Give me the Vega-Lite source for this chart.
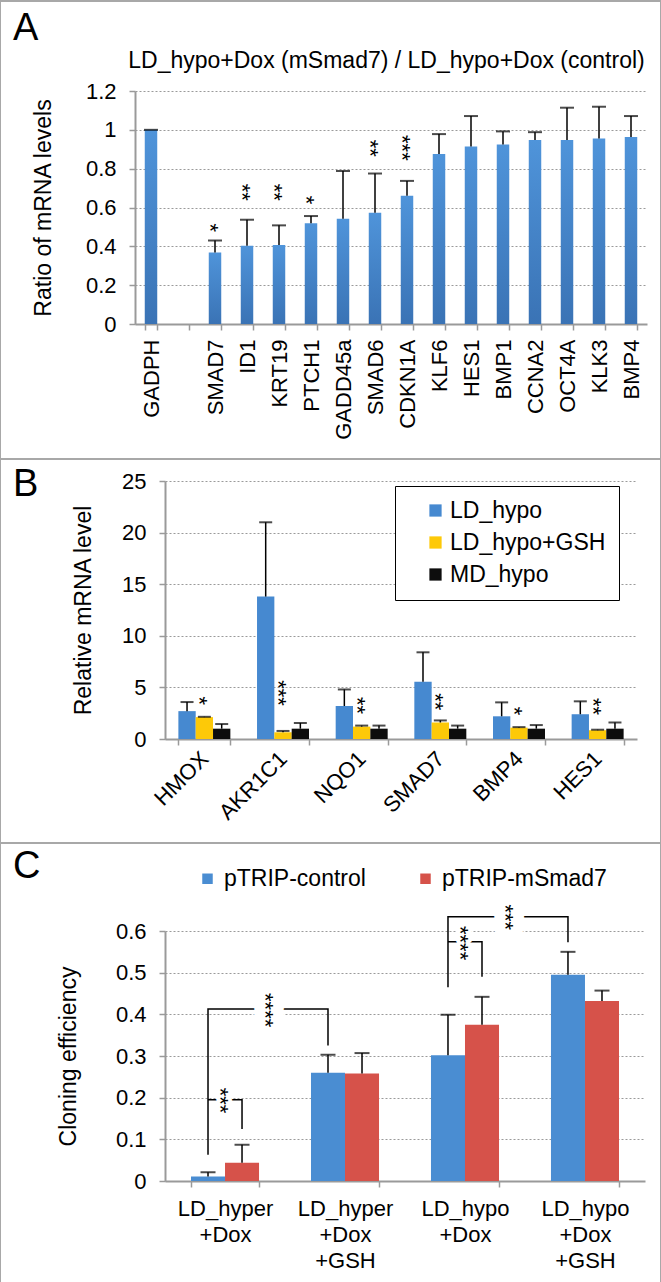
{
  "$schema": "https://vega.github.io/schema/vega-lite/v6.json",
  "padding": {"left": -12, "top": 0, "right": 0, "bottom": 0},
  "spacing": 0,
  "bounds": "flush",
  "background": "white",
  "resolve": {"scale": {"color": "independent", "xOffset": "independent"}, "legend": {"color": "independent"}},
  "config": {
    "font": "Liberation Sans",
    "view": {"stroke": "#a8a8a8", "strokeWidth": 2},
    "axis": {"labelFont": "Liberation Sans", "titleFont": "Liberation Sans", "labelColor": "#000", "titleColor": "#000", "domainColor": "#9a9a9a", "tickColor": "#9a9a9a", "domainWidth": 2, "tickWidth": 1.5, "gridColor": "#9a9a9a", "gridDash": [2, 2], "gridWidth": 1, "titleFontWeight": "normal"},
    "title": {"font": "Liberation Sans", "fontWeight": "normal", "color": "#000"},
    "legend": {"labelFont": "Liberation Sans", "labelColor": "#000", "labelLimit": 400}
  },
  "datasets": {
    "a": [
      {"gene": "GADPH", "value": 1.0, "err": 1.0},
      {"gene": "SMAD7", "value": 0.368, "err": 0.43},
      {"gene": "ID1", "value": 0.403, "err": 0.537},
      {"gene": "KRT19", "value": 0.407, "err": 0.508},
      {"gene": "PTCH1", "value": 0.519, "err": 0.556},
      {"gene": "GADD45a", "value": 0.542, "err": 0.788},
      {"gene": "SMAD6", "value": 0.573, "err": 0.775},
      {"gene": "CDKN1A", "value": 0.661, "err": 0.737},
      {"gene": "KLF6", "value": 0.876, "err": 0.978},
      {"gene": "HES1", "value": 0.914, "err": 1.071},
      {"gene": "BMP1", "value": 0.924, "err": 0.992},
      {"gene": "CCNA2", "value": 0.947, "err": 0.988},
      {"gene": "OCT4A", "value": 0.948, "err": 1.114},
      {"gene": "KLK3", "value": 0.956, "err": 1.119},
      {"gene": "BMP4", "value": 0.963, "err": 1.071}
    ],
    "aStars": [
      {"gene": "SMAD7", "y": 0.495, "label": "*"},
      {"gene": "ID1", "y": 0.678, "label": "**"},
      {"gene": "KRT19", "y": 0.678, "label": "**"},
      {"gene": "PTCH1", "y": 0.639, "label": "*"},
      {"gene": "SMAD6", "y": 0.905, "label": "**"},
      {"gene": "CDKN1A", "y": 0.907, "label": "***"}
    ],
    "b": [
      {"gene": "HMOX", "series": "LD_hypo", "value": 2.7, "err": 3.58},
      {"gene": "HMOX", "series": "LD_hypo+GSH", "value": 2.12, "err": 2.15},
      {"gene": "HMOX", "series": "MD_hypo", "value": 1.0, "err": 1.45},
      {"gene": "AKR1C1", "series": "LD_hypo", "value": 13.8, "err": 21.0},
      {"gene": "AKR1C1", "series": "LD_hypo+GSH", "value": 0.65, "err": 0.78},
      {"gene": "AKR1C1", "series": "MD_hypo", "value": 1.0, "err": 1.55},
      {"gene": "NQO1", "series": "LD_hypo", "value": 3.2, "err": 4.8},
      {"gene": "NQO1", "series": "LD_hypo+GSH", "value": 1.2, "err": 1.3},
      {"gene": "NQO1", "series": "MD_hypo", "value": 1.0, "err": 1.3},
      {"gene": "SMAD7", "series": "LD_hypo", "value": 5.55, "err": 8.4},
      {"gene": "SMAD7", "series": "LD_hypo+GSH", "value": 1.6, "err": 1.8},
      {"gene": "SMAD7", "series": "MD_hypo", "value": 1.0, "err": 1.3},
      {"gene": "BMP4", "series": "LD_hypo", "value": 2.2, "err": 3.55},
      {"gene": "BMP4", "series": "LD_hypo+GSH", "value": 1.1, "err": 1.15},
      {"gene": "BMP4", "series": "MD_hypo", "value": 1.0, "err": 1.35},
      {"gene": "HES1", "series": "LD_hypo", "value": 2.4, "err": 3.65},
      {"gene": "HES1", "series": "LD_hypo+GSH", "value": 0.85, "err": 0.9},
      {"gene": "HES1", "series": "MD_hypo", "value": 1.0, "err": 1.6}
    ],
    "bStars": [
      {"gene": "HMOX", "y": 3.7, "label": "*"},
      {"gene": "AKR1C1", "y": 4.45, "label": "***"},
      {"gene": "NQO1", "y": 3.25, "label": "**"},
      {"gene": "SMAD7", "y": 3.6, "label": "**"},
      {"gene": "BMP4", "y": 2.7, "label": "*"},
      {"gene": "HES1", "y": 3.15, "label": "**"}
    ],
    "c": [
      {"cond": "LD_hyper +Dox", "series": "pTRIP-control", "value": 0.011, "err": 0.021},
      {"cond": "LD_hyper +Dox", "series": "pTRIP-mSmad7", "value": 0.044, "err": 0.087},
      {"cond": "LD_hyper +Dox +GSH", "series": "pTRIP-control", "value": 0.26, "err": 0.303},
      {"cond": "LD_hyper +Dox +GSH", "series": "pTRIP-mSmad7", "value": 0.258, "err": 0.307},
      {"cond": "LD_hypo +Dox", "series": "pTRIP-control", "value": 0.302, "err": 0.399},
      {"cond": "LD_hypo +Dox", "series": "pTRIP-mSmad7", "value": 0.375, "err": 0.442},
      {"cond": "LD_hypo +Dox +GSH", "series": "pTRIP-control", "value": 0.495, "err": 0.55},
      {"cond": "LD_hypo +Dox +GSH", "series": "pTRIP-mSmad7", "value": 0.432, "err": 0.457}
    ],
    "cBrackets": [
      {"br": "b1", "o": 1, "cond": "LD_hyper +Dox", "series": "pTRIP-control", "y": 0.063},
      {"br": "b1", "o": 2, "cond": "LD_hyper +Dox", "series": "pTRIP-control", "y": 0.413},
      {"br": "b1", "o": 3, "cond": "LD_hyper +Dox +GSH", "series": "pTRIP-control", "y": 0.413},
      {"br": "b1", "o": 4, "cond": "LD_hyper +Dox +GSH", "series": "pTRIP-control", "y": 0.325},
      {"br": "b2", "o": 1, "cond": "LD_hyper +Dox", "series": "pTRIP-control", "y": 0.195},
      {"br": "b2", "o": 2, "cond": "LD_hyper +Dox", "series": "pTRIP-mSmad7", "y": 0.195},
      {"br": "b2", "o": 3, "cond": "LD_hyper +Dox", "series": "pTRIP-mSmad7", "y": 0.125},
      {"br": "b3", "o": 1, "cond": "LD_hypo +Dox", "series": "pTRIP-control", "y": 0.465},
      {"br": "b3", "o": 2, "cond": "LD_hypo +Dox", "series": "pTRIP-control", "y": 0.634},
      {"br": "b3", "o": 3, "cond": "LD_hypo +Dox +GSH", "series": "pTRIP-control", "y": 0.634},
      {"br": "b3", "o": 4, "cond": "LD_hypo +Dox +GSH", "series": "pTRIP-control", "y": 0.573},
      {"br": "b4", "o": 1, "cond": "LD_hypo +Dox", "series": "pTRIP-control", "y": 0.574},
      {"br": "b4", "o": 2, "cond": "LD_hypo +Dox", "series": "pTRIP-mSmad7", "y": 0.574},
      {"br": "b4", "o": 3, "cond": "LD_hypo +Dox", "series": "pTRIP-mSmad7", "y": 0.49}
    ],
    "cStarsMid": [
      {"cond": "LD_hyper +Dox", "y": 0.41, "label": "****"},
      {"cond": "LD_hypo +Dox", "y": 0.633, "label": "***"}
    ],
    "cStarsCenter": [
      {"cond": "LD_hyper +Dox", "y": 0.193, "label": "***"},
      {"cond": "LD_hypo +Dox", "y": 0.571, "label": "****"}
    ]
  },
  "vconcat": [
    {
      "width": 661,
      "height": 458,
      "title": {"text": "A", "anchor": "start", "frame": "group", "fontSize": 38, "offset": -47, "dx": 13},
      "layer": [
        {
          "data": {"name": "a"},
          "mark": {"type": "bar", "color": {"gradient": "linear", "x1": 0, "y1": 0, "x2": 0, "y2": 1, "stops": [{"offset": 0, "color": "#4f94da"}, {"offset": 1, "color": "#3a73b5"}]}},
          "encoding": {
            "x": {"field": "gene", "type": "nominal",
              "scale": {"type": "band", "domain": ["GADPH", "_", "SMAD7", "ID1", "KRT19", "PTCH1", "GADD45a", "SMAD6", "CDKN1A", "KLF6", "HES1", "BMP1", "CCNA2", "OCT4A", "KLK3", "BMP4"], "range": [135, 647], "paddingInner": 0.61, "paddingOuter": 0.305},
              "axis": {"orient": "bottom", "offset": -135, "title": null, "labelAngle": -90, "labelAlign": "right", "labelBaseline": "middle", "labelFontSize": 22, "labelPadding": 9, "tickBand": "extent", "tickSize": 6, "labelExpr": "datum.label == '_' ? '' : datum.label"}},
            "y": {"field": "value", "type": "quantitative",
              "scale": {"domain": [0, 1.2], "range": [323, 90], "nice": false, "zero": true},
              "axis": {"orient": "left", "offset": -135, "values": [0, 0.2, 0.4, 0.6, 0.8, 1, 1.2], "format": "~g", "grid": true, "tickSize": 6, "labelPadding": 13, "labelFontSize": 22, "title": "Ratio of mRNA levels", "titleFontSize": 23, "titleX": -92, "titleBaseline": "middle"}}
          }
        },
        {
          "data": {"name": "a"},
          "mark": {"type": "rule", "color": "#000", "strokeWidth": 1.5},
          "encoding": {
            "x": {"field": "gene", "type": "nominal", "axis": null},
            "y": {"field": "value", "type": "quantitative", "axis": null},
            "y2": {"field": "err"}
          }
        },
        {
          "data": {"name": "a"},
          "mark": {"type": "tick", "color": "#000", "thickness": 2, "size": 14},
          "encoding": {
            "x": {"field": "gene", "type": "nominal", "axis": null},
            "y": {"field": "err", "type": "quantitative", "axis": null}
          }
        },
        {
          "data": {"name": "aStars"},
          "mark": {"type": "text", "angle": 90, "fontSize": 22, "dy": 5, "color": "#000", "baseline": "middle", "align": "center"},
          "encoding": {
            "x": {"field": "gene", "type": "nominal", "axis": {"orient": "top", "offset": -71, "labels": false, "ticks": false, "domain": false, "grid": false, "title": "LD_hypo+Dox (mSmad7) / LD_hypo+Dox (control)", "titleFontSize": 23, "titlePadding": 0, "titleX": 386}},
            "y": {"field": "y", "type": "quantitative", "axis": null},
            "text": {"field": "label"}
          }
        }
      ],
      "resolve": {"axis": {"x": "independent", "y": "independent"}}
    },
    {
      "width": 661,
      "height": 384,
      "title": {"text": "B", "anchor": "start", "frame": "group", "fontSize": 38, "offset": -45, "dx": 13},
      "layer": [
        {
          "data": {"name": "b"},
          "mark": {"type": "bar"},
          "encoding": {
            "x": {"field": "gene", "type": "nominal",
              "scale": {"type": "band", "domain": ["HMOX", "AKR1C1", "NQO1", "SMAD7", "BMP4", "HES1"], "range": [165, 637], "paddingInner": 0.339, "paddingOuter": 0.17},
              "axis": {"orient": "bottom", "offset": -104, "title": null, "labelAngle": -45, "labelAlign": "right", "labelBaseline": "middle", "labelFontSize": 22, "labelPadding": 10, "tickBand": "extent", "tickSize": 6}},
            "xOffset": {"field": "series", "type": "nominal", "scale": {"type": "band", "domain": ["LD_hypo", "LD_hypo+GSH", "MD_hypo"], "paddingInner": 0, "paddingOuter": 0}},
            "y": {"field": "value", "type": "quantitative",
              "scale": {"domain": [0, 25], "range": [280, 22], "nice": false, "zero": true},
              "axis": {"orient": "left", "offset": -165, "values": [0, 5, 10, 15, 20, 25], "grid": true, "tickSize": 6, "labelPadding": 13, "labelFontSize": 22, "title": "Relative mRNA level", "titleFontSize": 23, "titleX": -82, "titleBaseline": "middle"}},
            "color": {"field": "series", "type": "nominal",
              "scale": {"domain": ["LD_hypo", "LD_hypo+GSH", "MD_hypo"], "range": ["#4689d0", "#fdc908", "#0d0d0d"]},
              "legend": {"orient": "none", "legendX": 395, "legendY": 27, "title": null, "direction": "vertical", "strokeColor": "#000", "fillColor": "#fff", "padding": 13, "symbolType": "square", "symbolSize": 150, "symbolStrokeWidth": 0, "symbolOffset": 16, "labelFontSize": 23, "labelOffset": 3, "rowPadding": 8}}
          }
        },
        {
          "data": {"name": "b"},
          "mark": {"type": "rule", "color": "#000", "strokeWidth": 1.5},
          "encoding": {
            "x": {"field": "gene", "type": "nominal", "axis": null},
            "xOffset": {"field": "series", "type": "nominal"},
            "y": {"field": "value", "type": "quantitative", "axis": null},
            "y2": {"field": "err"}
          }
        },
        {
          "data": {"name": "b"},
          "mark": {"type": "tick", "color": "#000", "thickness": 2, "size": 13},
          "encoding": {
            "x": {"field": "gene", "type": "nominal", "axis": null},
            "xOffset": {"field": "series", "type": "nominal"},
            "y": {"field": "err", "type": "quantitative", "axis": null}
          }
        },
        {
          "data": {"name": "bStars"},
          "mark": {"type": "text", "angle": 90, "fontSize": 22, "dy": 5, "color": "#000", "baseline": "middle", "align": "center"},
          "encoding": {
            "x": {"field": "gene", "type": "nominal", "axis": null},
            "y": {"field": "y", "type": "quantitative", "axis": null},
            "text": {"field": "label"}
          }
        }
      ],
      "resolve": {"axis": {"x": "independent", "y": "independent"}}
    },
    {
      "width": 661,
      "height": 440,
      "title": {"text": "C", "anchor": "start", "frame": "group", "fontSize": 38, "offset": -43, "dx": 13},
      "layer": [
        {
          "data": {"name": "c"},
          "mark": {"type": "bar"},
          "encoding": {
            "x": {"field": "cond", "type": "nominal",
              "scale": {"type": "band", "domain": ["LD_hyper +Dox", "LD_hyper +Dox +GSH", "LD_hypo +Dox", "LD_hypo +Dox +GSH"], "range": [165, 645], "paddingInner": 0.433, "paddingOuter": 0.2167},
              "axis": {"orient": "bottom", "offset": -102, "title": null, "labelAngle": 0, "labelAlign": "center", "labelBaseline": "top", "labelFontSize": 22, "labelPadding": 11, "labelLineHeight": 26, "tickBand": "extent", "tickSize": 6, "labelExpr": "split(datum.label, ' ')"}},
            "xOffset": {"field": "series", "type": "nominal", "scale": {"type": "band", "domain": ["pTRIP-control", "pTRIP-mSmad7"], "paddingInner": 0, "paddingOuter": 0}},
            "y": {"field": "value", "type": "quantitative",
              "scale": {"domain": [0, 0.6], "range": [338, 88], "nice": false, "zero": true},
              "axis": {"orient": "left", "offset": -165, "values": [0, 0.1, 0.2, 0.3, 0.4, 0.5, 0.6], "format": "~g", "grid": true, "tickSize": 6, "labelPadding": 13, "labelFontSize": 22, "title": "Cloning efficiency", "titleFontSize": 23, "titleX": -97, "titleBaseline": "middle"}},
            "color": {"field": "series", "type": "nominal",
              "scale": {"domain": ["pTRIP-control", "pTRIP-mSmad7"], "range": ["#4a8dd2", "#d6524a"]},
              "legend": {"orient": "none", "legendX": 196, "legendY": 24, "title": null, "direction": "horizontal", "symbolType": "square", "symbolSize": 110, "symbolStrokeWidth": 0, "labelFontSize": 23, "labelOffset": 5, "columnPadding": 48}}
          }
        },
        {
          "data": {"name": "c"},
          "mark": {"type": "rule", "color": "#000", "strokeWidth": 1.5},
          "encoding": {
            "x": {"field": "cond", "type": "nominal", "axis": null},
            "xOffset": {"field": "series", "type": "nominal"},
            "y": {"field": "value", "type": "quantitative", "axis": null},
            "y2": {"field": "err"}
          }
        },
        {
          "data": {"name": "c"},
          "mark": {"type": "tick", "color": "#000", "thickness": 2, "size": 15},
          "encoding": {
            "x": {"field": "cond", "type": "nominal", "axis": null},
            "xOffset": {"field": "series", "type": "nominal"},
            "y": {"field": "err", "type": "quantitative", "axis": null}
          }
        },
        {
          "data": {"name": "cBrackets"},
          "mark": {"type": "line", "color": "#000", "strokeWidth": 1.5, "interpolate": "linear"},
          "encoding": {
            "x": {"field": "cond", "type": "nominal", "axis": null},
            "xOffset": {"field": "series", "type": "nominal"},
            "y": {"field": "y", "type": "quantitative", "axis": null},
            "detail": {"field": "br"},
            "order": {"field": "o", "type": "quantitative"}
          }
        },
        {
          "data": {"name": "cStarsMid"},
          "mark": {"type": "text", "angle": 90, "fontSize": 22, "dy": 5, "color": "#fff", "stroke": "#fff", "strokeWidth": 22, "strokeJoin": "round", "baseline": "middle", "align": "center"},
          "encoding": {
            "x": {"field": "cond", "type": "nominal", "axis": null, "bandPosition": 1.16},
            "y": {"field": "y", "type": "quantitative", "axis": null},
            "text": {"field": "label"}
          }
        },
        {
          "data": {"name": "cStarsCenter"},
          "mark": {"type": "text", "angle": 90, "fontSize": 22, "dy": 5, "color": "#fff", "stroke": "#fff", "strokeWidth": 8, "strokeJoin": "round", "baseline": "middle", "align": "center"},
          "encoding": {
            "x": {"field": "cond", "type": "nominal", "axis": null},
            "y": {"field": "y", "type": "quantitative", "axis": null},
            "text": {"field": "label"}
          }
        },
        {
          "data": {"name": "cStarsMid"},
          "mark": {"type": "text", "angle": 90, "fontSize": 22, "dy": 5, "color": "#000", "baseline": "middle", "align": "center"},
          "encoding": {
            "x": {"field": "cond", "type": "nominal", "axis": null, "bandPosition": 1.16},
            "y": {"field": "y", "type": "quantitative", "axis": null},
            "text": {"field": "label"}
          }
        },
        {
          "data": {"name": "cStarsCenter"},
          "mark": {"type": "text", "angle": 90, "fontSize": 22, "dy": 5, "color": "#000", "baseline": "middle", "align": "center"},
          "encoding": {
            "x": {"field": "cond", "type": "nominal", "axis": null},
            "y": {"field": "y", "type": "quantitative", "axis": null},
            "text": {"field": "label"}
          }
        }
      ],
      "resolve": {"axis": {"x": "independent", "y": "independent"}}
    }
  ]
}
